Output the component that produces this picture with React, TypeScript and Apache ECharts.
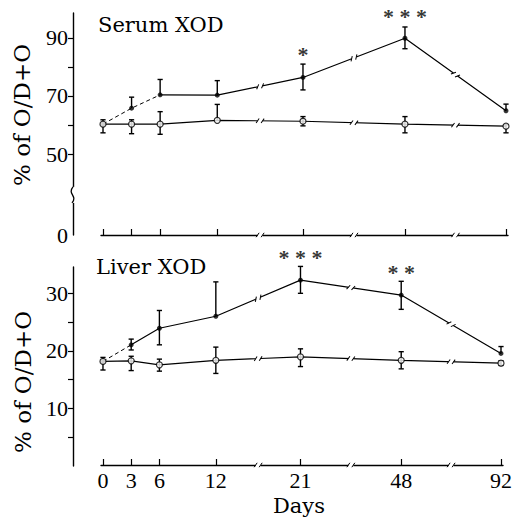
import React, { useEffect, useRef } from "react";
import * as echarts from "echarts";

// ---- data ----
const DAYS = [0, 3, 6, 12, 21, 48, 92];

const SERUM_TREATED = [60.3, 65.8, 70.4, 70.3, 76.4, 89.9, 64.9];
const SERUM_TREATED_UP = [0, 3.8, 5.3, 5.0, 4.6, 3.9, 2.3];
const SERUM_TREATED_DOWN = [0, 0, 0, 0, 4.3, 3.6, 0];
const SERUM_CONTROL = [60.3, 60.3, 60.3, 61.6, 61.3, 60.3, 59.6];
const SERUM_CONTROL_UP = [1.5, 1.5, 4.3, 5.5, 1.6, 2.6, 0.5];
const SERUM_CONTROL_DOWN = [3.0, 3.3, 3.5, 0, 1.6, 3.0, 2.3];

const LIVER_TREATED = [18.1, 21.0, 23.9, 26.0, 32.3, 29.7, 19.5];
const LIVER_TREATED_UP = [0, 1.0, 3.1, 6.0, 2.4, 2.4, 1.2];
const LIVER_TREATED_DOWN = [0, 0.9, 2.9, 0, 2.3, 2.5, 0];
const LIVER_CONTROL = [18.1, 18.2, 17.5, 18.3, 18.9, 18.3, 17.8];
const LIVER_CONTROL_UP = [0.7, 0.8, 1.0, 2.3, 1.4, 1.5, 0.4];
const LIVER_CONTROL_DOWN = [1.5, 1.7, 1.1, 2.3, 1.7, 1.5, 0.4];

const SERUM_SIG_DAYS = [21, 48];
const SERUM_SIG_Y = [85.3, 98.3];
const SERUM_SIG_TEXT = ["*", "* * *"];
const LIVER_SIG_DAYS = [21, 48];
const LIVER_SIG_Y = [36.7, 34.2];
const LIVER_SIG_TEXT = ["* * *", "* *"];

const SERUM_Y_TICKS = [50, 60, 70, 80, 90];
const SERUM_Y_LABELS = [50, 70, 90];
const LIVER_Y_TICKS = [5, 10, 15, 20, 25, 30];
const LIVER_Y_LABELS = [10, 20, 30];

// ---- layout constants ----
const SERUM_YMIN = 22.07; // drawn as "0" below the axis break
const SERUM_YMAX = 98.62;
const SERUM_YBREAK = 35.9;
const LIVER_YMIN = 0;
const LIVER_YMAX = 34.6;

// broken time axis: days -> axis units
const KNOT_DAY = [0, 21, 48, 92];
const KNOT_POS = [0, 21, 31.71, 42.32];
const pos = (d: number) => {
  for (let i = 1; i < KNOT_DAY.length; i++) {
    if (d <= KNOT_DAY[i]) {
      const t = (d - KNOT_DAY[i - 1]) / (KNOT_DAY[i] - KNOT_DAY[i - 1]);
      return KNOT_POS[i - 1] + t * (KNOT_POS[i] - KNOT_POS[i - 1]);
    }
  }
  return KNOT_POS[KNOT_POS.length - 1];
};
const XMIN = -0.21;
const XMAX = 42.53;
const BREAK_SEG = [3, 4, 5];

const SERIF = "Liberation Serif";
const SERIF2 = "DejaVu Serif";

const errorBarItem = (_p: any, api: any) => {
  const x = api.value(0);
  const y = api.value(1);
  const up = api.value(2);
  const dn = api.value(3);
  const top = api.coord([x, y + up]);
  const bot = api.coord([x, y - dn]);
  const style = { stroke: "#000", lineWidth: 1.4 };
  const cw = 2.6;
  const children: any[] = [
    { type: "line", shape: { x1: top[0], y1: top[1], x2: bot[0], y2: bot[1] }, style },
  ];
  if (up > 0)
    children.push({ type: "line", shape: { x1: top[0] - cw, y1: top[1], x2: top[0] + cw, y2: top[1] }, style });
  if (dn > 0)
    children.push({ type: "line", shape: { x1: bot[0] - cw, y1: bot[1], x2: bot[0] + cw, y2: bot[1] }, style });
  return { type: "group", children };
};

const breakItem = (_p: any, api: any) => {
  const a = api.coord([api.value(0), api.value(1)]);
  const b = api.coord([api.value(2), api.value(3)]);
  const mx = (a[0] + b[0]) / 2;
  const my = (a[1] + b[1]) / 2;
  const ang = Math.atan2(b[1] - a[1], b[0] - a[0]);
  const st = { stroke: "#000", lineWidth: 1 };
  return {
    type: "group",
    x: mx,
    y: my,
    rotation: -ang,
    children: [
      { type: "rect", shape: { x: -2.5, y: -2.5, width: 5, height: 5 }, style: { fill: "#fff" } },
      { type: "line", shape: { x1: -4, y1: 2.2, x2: -1, y2: -2.2 }, style: st },
      { type: "line", shape: { x1: 1, y1: 2.2, x2: 4, y2: -2.2 }, style: st },
    ],
  };
};

const yBreakItem = (_p: any, api: any) => {
  const p = api.coord([api.value(0), api.value(1)]);
  return {
    type: "group",
    children: [
      { type: "rect", shape: { x: p[0] - 3, y: p[1] - 8, width: 6, height: 16 }, style: { fill: "#fff" } },
      {
        type: "bezierCurve",
        shape: {
          x1: p[0], y1: p[1] - 8, x2: p[0] - 1, y2: p[1] + 8,
          cpx1: p[0] - 6, cpy1: p[1] - 1, cpx2: p[0] + 5, cpy2: p[1] + 1,
        },
        style: { stroke: "#000", lineWidth: 1.3, fill: "none" },
      },
    ],
  };
};

const dayLabel = (v: number) => {
  const i = DAYS.findIndex((d) => Math.abs(pos(d) - v) < 1e-6);
  return i >= 0 ? String(DAYS[i]) : "";
};

function panelSeries(
  xi: number,
  treated: number[],
  tUp: number[],
  tDn: number[],
  control: number[],
  cUp: number[],
  cDn: number[],
  dashedUntil: number,
  sigDays: number[],
  sigY: number[],
  sigText: string[],
  ymin: number
) {
  const pts = (vals: number[]) => DAYS.map((d, i) => [pos(d), vals[i]]);
  const tp = pts(treated);
  const cp = pts(control);
  const lineStyle = { color: "#000", width: 1.2 };
  const common = { xAxisIndex: xi, yAxisIndex: xi, silent: true };
  const breaks: number[][] = [];
  BREAK_SEG.forEach((i) => {
    breaks.push([tp[i][0], treated[i], tp[i + 1][0], treated[i + 1]]);
    breaks.push([cp[i][0], control[i], cp[i + 1][0], control[i + 1]]);
    breaks.push([tp[i][0], ymin, tp[i + 1][0], ymin]);
  });
  return [
    {
      ...common,
      type: "line",
      data: tp.slice(0, dashedUntil + 1),
      showSymbol: false,
      lineStyle: { ...lineStyle, width: 1, type: [4, 3] },
      z: 2,
    },
    {
      ...common,
      type: "line",
      data: tp.slice(dashedUntil),
      showSymbol: false,
      lineStyle,
      z: 2,
    },
    { ...common, type: "line", data: cp, showSymbol: false, lineStyle, z: 2 },
    { ...common, type: "custom", renderItem: breakItem, data: breaks, z: 3 },
    {
      ...common,
      type: "custom",
      renderItem: errorBarItem,
      data: DAYS.map((d, i) => [pos(d), treated[i], tUp[i], tDn[i]]),
      z: 4,
    },
    {
      ...common,
      type: "custom",
      renderItem: errorBarItem,
      data: DAYS.map((d, i) => [pos(d), control[i], cUp[i], cDn[i]]),
      z: 4,
    },
    {
      ...common,
      type: "scatter",
      data: tp,
      symbol: "circle",
      symbolSize: 5,
      itemStyle: { color: "#000" },
      z: 5,
    },
    {
      ...common,
      type: "scatter",
      data: cp,
      symbol: "circle",
      symbolSize: 6,
      itemStyle: { color: "#fff", borderColor: "#000", borderWidth: 1.2 },
      z: 6,
    },
    {
      ...common,
      type: "scatter",
      clip: false,
      data: sigDays.map((d, i) => ({
        value: [pos(d), sigY[i]],
        label: { formatter: sigText[i] },
      })),
      symbolSize: 1,
      itemStyle: { color: "transparent" },
      label: {
        show: true,
        position: "inside",
        color: "#000",
        textBorderWidth: 0,
        fontFamily: SERIF,
        fontWeight: "bold",
        fontSize: 22,
        offset: [0, 3],
      },
      z: 7,
    },
  ];
}

export default function App() {
  const ref = useRef<HTMLDivElement>(null);
  useEffect(() => {
    document.body.style.margin = "0";
    const chart = echarts.init(ref.current!, null, { renderer: "svg" });
    const gridTop = { top: 13, height: 222 };
    const gridBot = { top: 267, height: 199 };
    const yLabelStyle = { color: "#000", fontFamily: SERIF, fontSize: 22, margin: 5 };
    const axisLine = { show: true, onZero: false, lineStyle: { color: "#000", width: 1.4 } };
    const xData = (showLabels: boolean, gi: number) => ({
      gridIndex: gi,
      type: "value",
      min: XMIN,
      max: XMAX,
      axisLine,
      splitLine: { show: false },
      axisTick: {
        show: true,
        inside: true,
        length: 6,
        customValues: DAYS.map(pos),
        lineStyle: { color: "#000", width: 1.2 },
      },
      axisLabel: {
        show: showLabels,
        customValues: DAYS.map(pos),
        formatter: dayLabel,
        color: "#000",
        fontFamily: SERIF,
        fontSize: 22,
        margin: 4,
      },
      name: showLabels ? "Days" : "",
      nameLocation: "middle",
      nameGap: 30,
      nameTextStyle: { color: "#000", fontFamily: SERIF2, fontSize: 21, padding: [0, 6, 0, 0] },
    });
    const hiddenX = (gi: number) => ({ gridIndex: gi, type: "value", min: 0, max: 1, show: false });
    const shownY = (gi: number, min: number, max: number, ticks: number[], labels: number[], zeroLabel: boolean) => ({
      gridIndex: gi,
      type: "value",
      min,
      max,
      axisLine,
      splitLine: { show: false },
      axisTick: { show: true, length: 5, customValues: ticks, lineStyle: { color: "#000", width: 1.2 } },
      axisLabel: {
        ...yLabelStyle,
        customValues: zeroLabel ? [min, ...labels] : labels,
        formatter: (v: number) => (zeroLabel && Math.abs(v - min) < 1e-6 ? "0" : String(v)),
      },
    });
    const hiddenY = (gi: number, min: number, max: number) => ({ gridIndex: gi, type: "value", min, max, show: false });

    chart.setOption({
      animation: false,
      backgroundColor: "#fff",
      title: [
        { text: "Serum XOD", left: 98, top: 14, padding: 0, textStyle: { color: "#000", fontFamily: SERIF2, fontSize: 21, fontWeight: "normal" } },
        { text: "Liver XOD", left: 96, top: 256, padding: 0, textStyle: { color: "#000", fontFamily: SERIF2, fontSize: 21, fontWeight: "normal" } },
      ],
      grid: [
        { left: 73, width: 435, ...gridTop },
        { left: 101, width: 407, ...gridTop },
        { left: 73, width: 435, ...gridBot },
        { left: 101, width: 407, ...gridBot },
      ],
      xAxis: [hiddenX(0), xData(false, 1), hiddenX(2), xData(true, 3)],
      yAxis: [
        shownY(0, SERUM_YMIN, SERUM_YMAX, SERUM_Y_TICKS, SERUM_Y_LABELS, true),
        hiddenY(1, SERUM_YMIN, SERUM_YMAX),
        shownY(2, LIVER_YMIN, LIVER_YMAX, LIVER_Y_TICKS, LIVER_Y_LABELS, false),
        hiddenY(3, LIVER_YMIN, LIVER_YMAX),
      ],
      graphic: [
        { type: "text", x: 22, y: 115, rotation: Math.PI / 2, style: { text: "% of O/D+O", fill: "#000", font: `23px "${SERIF2}"`, align: "center", verticalAlign: "middle" } },
        { type: "text", x: 23, y: 382, rotation: Math.PI / 2, style: { text: "% of O/D+O", fill: "#000", font: `23px "${SERIF2}"`, align: "center", verticalAlign: "middle" } },
      ],
      series: [
        {
          type: "custom",
          xAxisIndex: 0,
          yAxisIndex: 0,
          renderItem: yBreakItem,
          data: [[0, SERUM_YBREAK]],
          z: 3,
          silent: true,
        },
        ...panelSeries(1, SERUM_TREATED, SERUM_TREATED_UP, SERUM_TREATED_DOWN, SERUM_CONTROL, SERUM_CONTROL_UP, SERUM_CONTROL_DOWN, 2, SERUM_SIG_DAYS, SERUM_SIG_Y, SERUM_SIG_TEXT, SERUM_YMIN),
        ...panelSeries(3, LIVER_TREATED, LIVER_TREATED_UP, LIVER_TREATED_DOWN, LIVER_CONTROL, LIVER_CONTROL_UP, LIVER_CONTROL_DOWN, 1, LIVER_SIG_DAYS, LIVER_SIG_Y, LIVER_SIG_TEXT, LIVER_YMIN),
      ],
    });
    return () => chart.dispose();
  }, []);
  return <div ref={ref} style={{ width: 515, height: 517 }} />;
}
